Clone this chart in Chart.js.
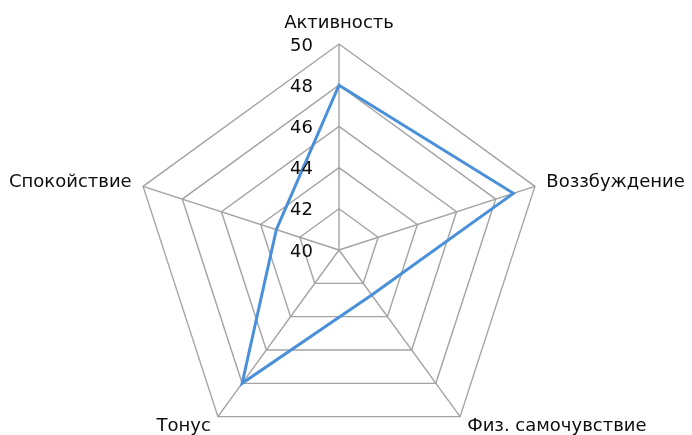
<!DOCTYPE html>
<html>
<head>
<meta charset="utf-8">
<script src="https://cdn.jsdelivr.net/npm/chart.js@4"></script>
<style>
  html, body { margin: 0; padding: 0; background: #fff; }
  #wrap { width: 692px; height: 435px; }
</style>
</head>
<body>
<div id="wrap"><canvas id="radarChart" width="692" height="435"></canvas></div>
<script>
// Оси радара и значения ряда
const categories = ['Активность', 'Воззбуждение', 'Физ. самочувствие', 'Тонус', 'Спокойствие'];
const values = [48, 48.9, 42.7, 48, 43.2];
const tickValues = [40, 42, 44, 46, 48, 50];

const textColor = '#0d0d0d';
const gridColor = '#a3a3a3';
const lineColor = '#4a90d9';
const labelFont = '18px "DejaVu Sans"';

// подписи осей и делений рисуем сами (Chart.js прячет первое деление)
const axisText = {
    id: 'axisText',
    afterDraw(chart) {
        const r = chart.scales.r;
        const ctx = chart.ctx;
        ctx.save();
        ctx.fillStyle = textColor;
        ctx.font = labelFont;
        ctx.textAlign = 'right';
        ctx.textBaseline = 'middle';
        tickValues.forEach(v => {
            const d = r.getDistanceFromCenterForValue(v);
            ctx.fillText(String(v), r.xCenter - 26, r.yCenter - d + 2);
        });
        categories.forEach((name, i) => {
            const p = r.getPointPosition(i, r.drawingArea + 12);
            const dx = p.x - r.xCenter;
            ctx.textAlign = Math.abs(dx) < 1 ? 'center' : (dx > 0 ? 'left' : 'right');
            ctx.textBaseline = i === 0 ? 'bottom' : 'middle';
            ctx.fillText(name, p.x, p.y);
        });
        ctx.restore();
    }
};

document.addEventListener('DOMContentLoaded', () => {
    const ctx = document.getElementById('radarChart').getContext('2d');
    new Chart(ctx, {
        type: 'radar',
        data: {
            labels: categories,
            datasets: [{
                data: values,
                borderColor: lineColor,
                borderWidth: 3,
                fill: false,
                pointRadius: 0,
                pointHoverRadius: 0,
                tension: 0
            }]
        },
        options: {
            responsive: false,
            devicePixelRatio: 1,
            animation: false,
            plugins: {
                legend: { display: false },
                tooltip: { enabled: false }
            },
            scales: {
                r: {
                    min: 40,
                    max: 50,
                    ticks: { stepSize: 2, display: false },
                    pointLabels: { display: false },
                    grid: { color: gridColor, lineWidth: 1.4 },
                    angleLines: { color: gridColor, lineWidth: 1.4 },
                    afterFit(scale) {
                        scale.xCenter = 339;
                        scale.yCenter = 250;
                        scale.drawingArea = 206;
                    }
                }
            }
        },
        plugins: [axisText]
    });
});
</script>
</body>
</html>
